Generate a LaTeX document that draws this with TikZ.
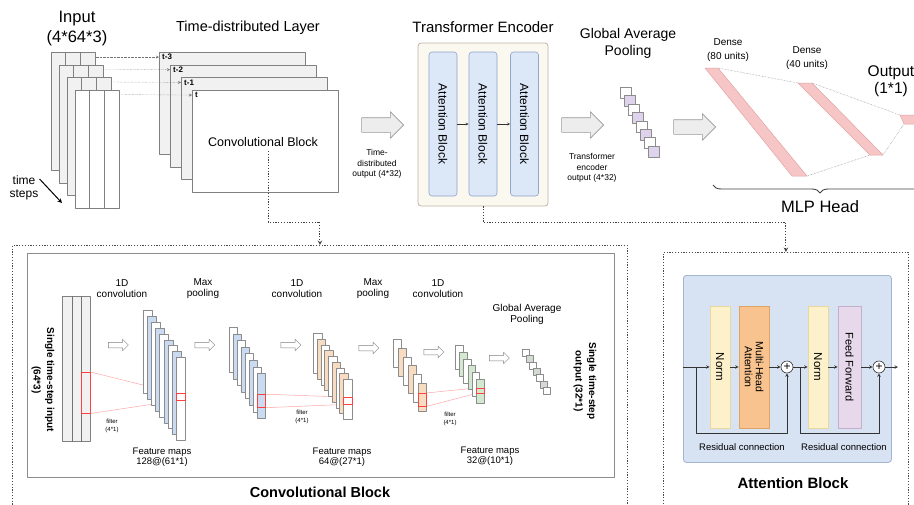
\documentclass[tikz,border=0pt]{standalone}
\usepackage{fontspec}
\setmainfont{Liberation Sans}
\usetikzlibrary{shapes.arrows,decorations.pathreplacing,backgrounds}

\definecolor{framegray}{HTML}{F1F1F1}
\definecolor{tfcream}{HTML}{FBF8F0}
\definecolor{tfline}{HTML}{BDB4A4}
\definecolor{abfill}{HTML}{DCE7F8}
\definecolor{abline}{HTML}{8FA5CA}
\definecolor{gappurple}{HTML}{DED2EC}
\definecolor{densepink}{HTML}{F6C6C6}
\definecolor{densedraw}{HTML}{E3A2A2}
\definecolor{convblue}{HTML}{CADBF1}
\definecolor{convpeach}{HTML}{F8DCC1}
\definecolor{convgreen}{HTML}{D3E9CF}
\definecolor{convgap}{HTML}{D2DAD2}
\definecolor{atfill}{HTML}{D7E2F3}
\definecolor{atline}{HTML}{A3B4D1}
\definecolor{normfill}{HTML}{FDF1CB}
\definecolor{normline}{HTML}{E9D89E}
\definecolor{mhafill}{HTML}{F8C38E}
\definecolor{mhaline}{HTML}{E0A366}
\definecolor{fffill}{HTML}{E7D8EB}
\definecolor{ffline}{HTML}{C4AFCA}

\tikzset{
  pbox/.style={draw=black!50, line width=0.5pt, inner sep=0pt, anchor=north west},
  inframe/.style={pbox, minimum width=44pt, minimum height=118pt},
  tdframe/.style={pbox, minimum width=146pt, minimum height=102pt},
  hollow/.style={single arrow, draw=black!40, fill=black!7, line width=0.6pt, inner sep=0pt, inner ysep=7pt, single arrow head extend=6pt, minimum height=42pt},
  smallhollow/.style={single arrow, draw=black!50, fill=white, line width=0.5pt, inner sep=0pt, inner ysep=2.5pt, single arrow head extend=3pt, minimum height=20pt},
  dotarrow/.style={densely dotted, black!55, ->},
  dropline/.style={dash pattern=on 1.2pt off 1.6pt, black!75, line width=1pt, ->},
  dotframe/.style={pbox, draw=black!70, dash pattern=on 1.2pt off 1.6pt, line width=0.9pt, minimum height=290pt},
  mlpdot/.style={densely dotted, black!45, line width=0.5pt},
  strip/.style={pbox, draw=black!45, line width=0.4pt},
  filt/.style={pbox, draw=red!75, line width=0.5pt},
  filtline/.style={red!35, line width=0.5pt},
  fbig/.style={font=\fontsize{16.5}{20}\selectfont, align=center, inner sep=0pt},
  fttl/.style={font=\fontsize{14.5}{17}\selectfont, align=center, inner sep=0pt},
  fmid/.style={font=\fontsize{12.5}{13}\selectfont, align=center, inner sep=0pt},
  fsmall/.style={font=\fontsize{10}{11}\selectfont, align=center, inner sep=0pt},
  fnote/.style={font=\fontsize{8.5}{10.5}\selectfont, align=center, inner sep=0pt},
  ftiny/.style={font=\fontsize{6}{7.5}\selectfont, align=center, inner sep=0pt},
  fbold/.style={font=\bfseries\fontsize{14.5}{17}\selectfont, inner sep=0pt},
  tlab/.style={font=\bfseries\fontsize{8}{9}\selectfont, inner sep=0pt},
  sidelab/.style={font=\bfseries\fontsize{10}{13.5}\selectfont, align=center, inner sep=0pt, rotate=-90},
  tfbox/.style={draw=tfline, fill=tfcream, rounded corners=3pt, line width=0.8pt, minimum width=130pt, minimum height=163pt},
  ablock/.style={draw=abline, fill=abfill, rounded corners=3pt, line width=0.6pt, rotate=-90, minimum width=144pt, minimum height=28pt, inner sep=0pt, font=\fontsize{12}{14}\selectfont},
  vblock/.style={line width=0.6pt, rotate=-90, minimum width=122pt, inner sep=0pt, align=center},
  plus/.style={circle, draw=black!80, fill=white, line width=0.6pt, minimum size=12pt, inner sep=0pt, font=\fontsize{12}{12}\selectfont}
}

\begin{document}
\begin{tikzpicture}[x=1pt, y=-1pt, >=stealth, line join=round]

% 画布
\useasboundingbox (0,0) rectangle (914,504);
\clip (0,0) rectangle (914,504);

% 输入 (4*64*3)
\node[fbig] (intitle) at (77,29) {Input\\(4*64*3)};
\foreach \i/\col in {0/framegray,1/framegray,2/framegray,3/white} {
  \node[inframe, fill=\col] (in\i) at ({51+8*\i},{52+12.5*\i}) {};
  \draw[black!50, line width=0.5pt] ([xshift=14pt]in\i.north west) -- ([xshift=14pt]in\i.south west);
  \draw[black!50, line width=0.5pt] ([xshift=29pt]in\i.north west) -- ([xshift=29pt]in\i.south west);
}
\node[fmid, font=\fontsize{12}{12.5}\selectfont] (ts) at (24,188) {time\\steps};
\coordinate (tsend) at (62,203);
\draw[->, line width=1pt] ([xshift=1pt,yshift=-3pt]ts.north east) -- (tsend);

% 时间分布层
\node[fttl] (tdtitle) at (248,28) {Time-distributed Layer};
\foreach \i/\tname/\col in {0/t-3/framegray,1/t-2/framegray,2/t-1/framegray,3/t/white} {
  \node[tdframe, fill=\col] (td\i) at ({159+11*\i},{52+12.7*\i}) {};
  \node[tlab, anchor=west] (tl\i) at ([xshift=3pt,yshift=-5pt]td\i.north west) {\tname};
  \draw[dotarrow] ([yshift=-5pt]in\i.north east) -- ([yshift=-5pt]td\i.north west);
}
\node[fmid] (cbtxt) at (263,142) {Convolutional Block};
\coordinate (cbdrop) at (268,151);

% 空心箭头 1
\node[hollow] (ha1) at (379,125) {};
\node[fnote] (ha1lab) at (377,164) {Time-\\distributed\\output (4*32)};

% Transformer 编码器
\node[fttl, font=\fontsize{15}{17}\selectfont] (tftitle) at (483,27) {Transformer Encoder};
\node[tfbox] (tfenc) at (483,124.5) {};
\foreach \i/\xx in {1/443,2/483,3/524.5}
  \node[ablock] (ab\i) at (\xx,124) {Attention Block};
\draw[->, black!80] (ab1) -- (ab2);
\draw[->, black!80] (ab2) -- (ab3);

% 空心箭头 2
\node[hollow] (ha2) at (579,125) {};
\node[fnote] (ha2lab) at (592,168) {Transformer\\encoder\\output (4*32)};

% 全局平均池化
\node[fttl, font=\fontsize{14}{17}\selectfont] (gaptitle) at (628,43.5) {Global Average\\Pooling};
\foreach \i/\col in {0/white,1/gappurple,2/white,3/gappurple,4/white,5/gappurple,6/white,7/gappurple}
  \node[pbox, draw=black!45, fill=\col, minimum size=11pt] (gp\i) at ({620+4*\i},{87+8.4*\i}) {};

% 空心箭头 3
\node[hollow] (ha3) at (691,127) {};

% MLP 头
\node[fsmall, font=\fontsize{10}{14}\selectfont] (d1lab) at (728,50) {Dense\\(80 units)};
\node[fsmall, font=\fontsize{10}{14}\selectfont] (d2lab) at (807,58.5) {Dense\\(40 units)};
\node[fbig, font=\fontsize{15.5}{17}\selectfont] (outlab) at (891,81.5) {Output\\(1*1)};
\coordinate (d1tl) at (705,68);  \coordinate (d1a) at (718,68);
\coordinate (d1b) at (807,176);  \coordinate (d1bl) at (792,176);
\coordinate (d2tl) at (798,83);  \coordinate (d2tr) at (812,83);
\coordinate (d2br) at (883,155); \coordinate (d2bl) at (870,155);
\coordinate (otl) at (900,115);  \coordinate (obl) at (904,124);
\draw[mlpdot] (d1a) -- (d2tl);
\draw[mlpdot] (d1b) -- (d2bl);
\draw[mlpdot] (d2tr) -- (otl);
\draw[mlpdot] (d2br) -- (obl);
\filldraw[fill=densepink, draw=densedraw, line width=0.5pt] (d1tl) -- (d1a) -- (d1b) -- (d1bl) -- cycle;
\filldraw[fill=densepink, draw=densedraw, line width=0.5pt] (d2tl) -- (d2tr) -- (d2br) -- (d2bl) -- cycle;
\filldraw[fill=densepink, draw=densedraw, line width=0.5pt] (otl) -- (930,115) -- (930,124) -- (obl) -- cycle;
\coordinate (brl) at (713,185);
\coordinate (brr) at (927,185);
\draw[decorate, decoration={brace, mirror, amplitude=8pt}, black!75, line width=0.9pt] (brl) -- (brr);
\node[fbig] (mlplab) at (820,207) {MLP Head};

% 卷积块 (下方)
\node[dotframe, minimum width=615pt] (cvframe) at (12,245) {};
\node[pbox, draw=black!45, minimum width=587pt, minimum height=224pt] (cvinner) at (27,253) {};
\node[fbold] (cvtitle) at (320,492) {Convolutional Block};

\node[pbox, fill=framegray, minimum width=28pt, minimum height=145pt] (cin) at (62,296) {};
\draw[black!55, line width=0.5pt] ([xshift=10pt]cin.north west) -- ([xshift=10pt]cin.south west);
\draw[black!55, line width=0.5pt] ([xshift=19pt]cin.north west) -- ([xshift=19pt]cin.south west);
\node[sidelab] (cinlab) at (43,380) {Single time-step input\\(64*3)};

\foreach \g/\n/\gx/\gy/\dx/\dy/\w/\hh/\col in {
    fa/9/143/310/4.1/5.9/9/83/convblue,
    fb/8/229/327/4/6.6/8/45/convblue,
    fc/9/313/333/3.75/5.75/8.5/40/convpeach,
    fd/6/393/339/5/8.8/7.5/28/convpeach,
    fe/6/455/345/4.2/6.8/7.5/24/convgreen,
    fg/7/522/349/3.5/6.3/7/7/convgap} {
  \foreach \i in {1,...,\n} {
    \ifodd\i \def\fillc{white}\else \def\fillc{\col}\fi
    \node[strip, fill=\fillc, minimum width=\w pt, minimum height=\hh pt] (\g\i) at ({\gx+\dx*(\i-1)},{\gy+\dy*(\i-1)}) {};
  }
}

% 滤波器
\node[filt, minimum width=9pt, minimum height=41pt] (fin) at (81,372) {};
\node[filt, minimum width=9pt, minimum height=7pt] (ffa) at ([yshift=-36pt]fa9.north west) {};
\node[filt, minimum width=8pt, minimum height=13pt] (ffb) at ([yshift=-21pt]fb8.north west) {};
\node[filt, minimum width=8.5pt, minimum height=7pt] (ffc) at ([yshift=-18pt]fc9.north west) {};
\node[filt, minimum width=7.5pt, minimum height=13pt] (ffd) at ([yshift=-10pt]fd6.north west) {};
\node[filt, minimum width=7.5pt, minimum height=5pt] (ffe) at ([yshift=-9pt]fe6.north west) {};
\begin{scope}[on background layer]
  \draw[filtline] (fin.north east) -- (ffa.north west);
  \draw[filtline] (fin.south east) -- (ffa.south west);
  \draw[filtline] (ffb.north east) -- (ffc.north west);
  \draw[filtline] (ffb.south east) -- (ffc.south west);
  \draw[filtline] (ffd.north east) -- (ffe.north west);
  \draw[filtline] (ffd.south east) -- (ffe.south west);
\end{scope}

% 卷积块文字与箭头
\node[fsmall] (op1) at (122,288.5) {1D\\convolution};
\node[fsmall] (op2) at (203,288.5) {Max\\pooling};
\node[fsmall] (op3) at (297,288.5) {1D\\convolution};
\node[fsmall] (op4) at (373,288.5) {Max\\pooling};
\node[fsmall] (op5) at (438,288.5) {1D\\convolution};
\node[fsmall] (op6) at (527,314.5) {Global Average\\Pooling};
\node[smallhollow] (sa1) at (117,345) {};
\node[smallhollow] (sa2) at (203.5,345) {};
\node[smallhollow] (sa3) at (289.5,345) {};
\node[smallhollow] (sa4) at (367.5,348) {};
\node[smallhollow] (sa5) at (432.5,352) {};
\node[smallhollow] (sa6) at (498,358) {};
\node[ftiny] (fl1) at (112,426) {filter\\(4*1)};
\node[ftiny] (fl2) at (302,417) {filter\\(4*1)};
\node[ftiny] (fl3) at (450,419) {filter\\(4*1)};
\node[fsmall, font=\fontsize{9.5}{10}\selectfont] (fm1) at (162,457.5) {Feature maps\\128@(61*1)};
\node[fsmall, font=\fontsize{9.5}{10}\selectfont] (fm2) at (342,457.5) {Feature maps\\64@(27*1)};
\node[fsmall, font=\fontsize{9.5}{10}\selectfont] (fm3) at (490,456.5) {Feature maps\\32@(10*1)};
\node[sidelab] (coutlab) at (585,381) {Single time-step\\output (32*1)};

% 注意力块 (下方)
\node[dotframe, minimum width=245pt] (atframe) at (663,252) {};
\node[pbox, fill=atfill, draw=atline, line width=0.8pt, rounded corners=3pt, minimum width=208pt, minimum height=187pt] (atbg) at (683,275) {};
\node[fbold, font=\bfseries\fontsize{15}{17}\selectfont] (attitle) at (793,483) {Attention Block};
\node[vblock, fill=normfill, draw=normline, minimum height=20pt, font=\fontsize{11.5}{12}\selectfont] (n1) at (720,367) {Norm};
\node[vblock, fill=mhafill, draw=mhaline, minimum height=30pt, font=\fontsize{10.5}{11}\selectfont] (mha) at (754,367) {Multi-Head\\Attention};
\node[plus] (p1) at (787,367) {+};
\node[vblock, fill=normfill, draw=normline, minimum height=20pt, font=\fontsize{11.5}{12}\selectfont] (n2) at (818,367) {Norm};
\node[vblock, fill=fffill, draw=ffline, minimum height=23pt, font=\fontsize{11}{12}\selectfont] (ff) at (849.5,367) {Feed Forward};
\node[plus] (p2) at (879,367) {+};
\coordinate (atin) at (atbg.west |- p1);
\coordinate (atout) at (898,367);
\coordinate (r1) at (696,367);
\coordinate (r2) at (800,367);
\begin{scope}[black!80, line width=0.6pt]
  \draw[->] (atin) -- (n1);
  \draw[->] (n1) -- (mha);
  \draw[->] (mha) -- (p1);
  \draw[->] (p1) -- (n2);
  \draw[->] (n2) -- (ff);
  \draw[->] (ff) -- (p2);
  \draw[->] (p2) -- (atout);
  \draw[->] (r1) -- ++(0,66) -| (p1);
  \draw[->] (r2) -- ++(0,66) -| (p2);
\end{scope}
\node[fsmall, font=\fontsize{9.5}{11}\selectfont] (res1) at (742,447) {Residual connection};
\node[fsmall, font=\fontsize{9.5}{11}\selectfont] (res2) at (844,447) {Residual connection};

% 虚线引出
\draw[dropline] (cbdrop) -- ++(0,71) -| (cvframe.north);
\draw[dropline] (tfenc.south) -- ++(0,16) -| (atframe.north);

\end{tikzpicture}
\end{document}
